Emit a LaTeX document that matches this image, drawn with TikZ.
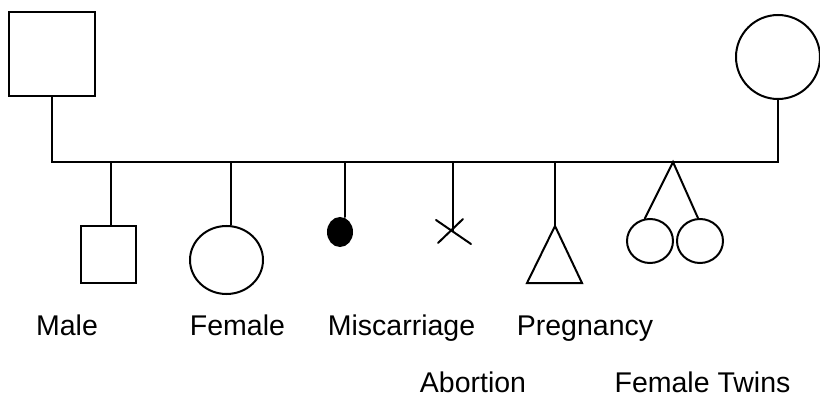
\documentclass[tikz,border=0pt]{standalone}
\usepackage{fontspec}
\setmainfont{Liberation Sans}
\usetikzlibrary{shapes.geometric, positioning}

\begin{document}
\begin{tikzpicture}[
    x=1pt, y=-1pt,
    link/.style={line width=2pt, line cap=round},
    malebox/.style={rectangle, draw=black, line width=2pt, inner sep=0pt},
    femalebox/.style={ellipse, draw=black, line width=2pt, inner sep=0pt},
    legend/.style={anchor=base, inner sep=0pt, font=\fontsize{28.5}{34}\selectfont}
]
\useasboundingbox (0,0) rectangle (820,396);

% parents
\node (father) [malebox, minimum width=86pt, minimum height=84pt] at (52,54) {};
\node (mother) [femalebox, minimum width=84pt, minimum height=84pt] at (778,57) {};
\coordinate (famL) at (52,162);
\coordinate (famR) at (778,162);

% children
\node (male) [malebox, minimum width=55pt, minimum height=57pt] at (108.5,254.5) {};
\node (female) [femalebox, minimum width=73pt, minimum height=68pt] at (226.5,260) {};
\node (misc) [femalebox, fill=black, minimum width=24pt, minimum height=28pt] at (340,232) {};
\coordinate (abort) at (453,231);
\coordinate (preg) at (555,226);
\node (twinL) [femalebox, minimum width=46pt, minimum height=44pt] at (650,241) {};
\node (twinR) [femalebox, minimum width=46pt, minimum height=44pt] at (700,241) {};

% drop points on the family line
\coordinate (dmale) at (111,162);
\coordinate (dfemale) at (231,162);
\coordinate (dmisc) at (345,162);
\coordinate (dabort) at (453,162);
\coordinate (dpreg) at (555,162);
\coordinate (dtwins) at (673,162);

\draw [link] (father) -- (famL) -- (famR) -- (mother);
\draw [link] (dmale) -- (dmale |- male.north);
\draw [link] (dfemale) -- (dfemale |- female.north);
\draw [link] (dmisc) -- (dmisc |- misc.north);
\draw [link] (dabort) -- (abort);
\draw [link] (abort) ++(-17,-11) -- ++(35,24);
\draw [link] (abort) ++(10,-12) -- ++(-25,24);
\draw [link] (dpreg) -- (preg);
\draw [link, line join=miter] (preg) -- ++(-28,57) -- ++(55,0) -- cycle;
\draw [link] (twinL.103) -- (dtwins) -- (twinR.95);

% captions
\node (tmale) [legend] at (67,335) {Male};
\node (tfemale) [legend] at (237.5,335) {Female};
\node (tmisc) [legend] at (401.5,335) {Miscarriage};
\node (tpreg) [legend] at (585,335) {Pregnancy};
\node (tabort) [legend] at (473,392) {Abortion};
\node (ttwins) [legend] at (702.5,392) {Female Twins};

\end{tikzpicture}
\end{document}
